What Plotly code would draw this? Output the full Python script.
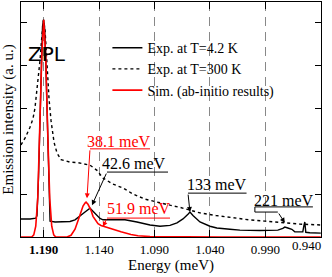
import plotly.graph_objects as go

# ---------------- data ----------------
# Experimental spectrum at T = 4.2 K (energy in the axis units, intensity in a.u.)
e_42k = [1.2103, 1.2022, 1.1968, 1.1959, 1.1945, 1.1932, 1.1918, 1.1909, 1.1900, 1.1891,
         1.1882, 1.1868, 1.1855, 1.1846, 1.1841, 1.1796, 1.1706, 1.1661, 1.1616, 1.1571,
         1.1526, 1.1481, 1.1436, 1.1391, 1.1364, 1.1301, 1.1238, 1.1166, 1.1058, 1.0940,
         1.0850, 1.0760, 1.0697, 1.0643, 1.0598, 1.0580, 1.0553, 1.0490, 1.0400, 1.0338,
         1.0220, 1.0130, 0.9950, 0.9788, 0.9743, 0.9725, 0.9698, 0.9662, 0.9635, 0.9590,
         0.9563, 0.9554, 0.9545, 0.9536, 0.9500, 0.9401]
i_42k = [0.42, 0.42, 0.44, 0.50, 1.40, 2.80, 4.30, 4.90, 5.05, 4.90,
         4.30, 2.80, 1.40, 0.50, 0.37, 0.35, 0.35, 0.36, 0.40, 0.48,
         0.58, 0.67, 0.55, 0.43, 0.40, 0.40, 0.41, 0.40, 0.35, 0.28,
         0.25, 0.27, 0.33, 0.42, 0.53, 0.58, 0.50, 0.35, 0.25, 0.21,
         0.18, 0.16, 0.15, 0.16, 0.20, 0.23, 0.21, 0.18, 0.12, 0.11,
         0.12, 0.25, 0.35, 0.11, 0.10, 0.09]

# Experimental spectrum at T = 300 K
e_300k = [1.2103, 1.2067, 1.2022, 1.1995, 1.1977, 1.1950, 1.1932, 1.1914, 1.1900, 1.1886,
          1.1868, 1.1850, 1.1832, 1.1805, 1.1778, 1.1742, 1.1661, 1.1589, 1.1481, 1.1418,
          1.1364, 1.1274, 1.1184, 1.1094, 1.0985, 1.0850, 1.0760, 1.0670, 1.0580, 1.0490,
          1.0346, 1.0175, 1.0049, 0.9905, 0.9743, 0.9590, 0.9401]
i_300k = [2.14, 2.30, 2.55, 2.75, 3.00, 3.60, 4.10, 4.70, 5.05, 4.80,
          4.00, 3.20, 2.70, 2.20, 1.95, 1.80, 1.74, 1.73, 1.67, 1.55,
          1.37, 1.23, 1.14, 1.00, 0.88, 0.79, 0.74, 0.69, 0.62, 0.56,
          0.50, 0.44, 0.40, 0.37, 0.33, 0.30, 0.28]

# Simulated (ab-initio) spectrum
e_sim = [1.2103, 1.2006, 1.1988, 1.1970, 1.1952, 1.1934, 1.1916, 1.1898, 1.1880, 1.1862,
         1.1844, 1.1826, 1.1808, 1.1790, 1.1688, 1.1652, 1.1616, 1.1580, 1.1544, 1.1526,
         1.1517, 1.1499, 1.1472, 1.1454, 1.1436, 1.1409, 1.1382, 1.1337, 1.1292, 1.1247,
         1.1202, 1.1112, 1.1049, 1.0940, 1.0760, 1.0300, 0.9401]
i_sim = [0.00, 0.00, 0.05, 0.25, 0.90, 2.40, 4.20, 5.05, 4.20, 2.40,
         0.90, 0.25, 0.05, 0.00, 0.00, 0.04, 0.18, 0.45, 0.72, 0.79,
         0.81, 0.76, 0.62, 0.48, 0.40, 0.31, 0.27, 0.23, 0.20, 0.16,
         0.12, 0.06, 0.03, 0.01, 0.005, 0.00, 0.00]

series_names = ["Exp. at T=4.2 K", "Exp. at T=300 K", "Sim. (ab-initio results)"]

x_tick_vals = [1.19, 1.14, 1.09, 1.04, 0.99, 0.94]
x_tick_text = ["<b>1.190</b>", "1.140", "1.090", "1.040", "0.990", "0.940"]
y_tick_vals = [0, 1, 2, 3, 4, 5]

# peak labels: text, colour, text pos, underline (x0,x1,y), arrow start, arrow tip
labels = [
    ("38.1 meV", "#ff0000", 1.1219, 2.23, 1.1481, 1.0940, 2.05, 1.1481, 2.05, 1.1508, 0.90),
    ("42.6 meV", "#000000", 1.1084, 1.70, 1.1328, 1.0778, 1.51, 1.1328, 1.51, 1.1463, 0.74),
    ("51.9 meV", "#ff0000", 1.1039, 0.67, 1.1328, 1.0760, 0.44, 1.1328, 0.44, 1.1364, 0.24),
    ("133 meV", "#000000", 1.0333, 1.21, 1.0598, 1.0070, 1.02, 1.0598, 1.02, 1.0580, 0.58),
    ("221 meV", "#000000", 0.9733, 0.84, 0.9995, 0.9472, 0.70, 0.9788, 0.58, 0.9725, 0.33),
]

SERIF = "Liberation Serif, Times New Roman, serif"

fig = go.Figure()
fig.add_trace(go.Scatter(x=e_42k, y=i_42k, mode="lines", name=series_names[0],
                         line=dict(color="black", width=1.4)))
fig.add_trace(go.Scatter(x=e_300k, y=i_300k, mode="lines", name=series_names[1],
                         line=dict(color="black", width=1.4, dash="dot")))
fig.add_trace(go.Scatter(x=e_sim, y=i_sim, mode="lines", name=series_names[2],
                         line=dict(color="#ff0000", width=1.6)))

for (txt, col, tx, ty, ux0, ux1, uy, ax0, ay0, tipx, tipy) in labels:
    fig.add_annotation(x=tx, y=ty, text=txt, showarrow=False,
                       font=dict(family=SERIF, size=16, color=col))
    fig.add_shape(type="line", x0=ux0, x1=ux1, y0=uy, y1=uy,
                  line=dict(color=col, width=1))
    if txt == "221 meV":
        fig.add_shape(type="line", x0=ux0, x1=ux0, y0=uy, y1=ay0, line=dict(color=col, width=1))
        fig.add_shape(type="line", x0=ux0, x1=ax0, y0=ay0, y1=ay0, line=dict(color=col, width=1))
    fig.add_annotation(x=tipx, y=tipy, ax=ax0, ay=ay0, axref="x", ayref="y",
                       text="", showarrow=True, arrowhead=2, arrowsize=1,
                       arrowwidth=1, arrowcolor=col)

fig.add_annotation(x=1.1873, y=4.26, text="ZPL", showarrow=False,
                   font=dict(family="DejaVu Sans", size=20, color="black"))

# last tick label sits flush with the right frame in the original, so it is
# placed right-aligned at its tick value instead of centred on it
tick_text_shown = x_tick_text[:-1] + [""]
fig.add_annotation(x=x_tick_vals[-1], xref="x", y=-0.036, yref="paper",
                   text=x_tick_text[-1], showarrow=False, xanchor="right", xshift=2,
                   yanchor="middle", font=dict(family=SERIF, size=13, color="black"))

fig.update_layout(
    width=332, height=277,
    margin=dict(l=21, r=11, t=2, b=40),
    paper_bgcolor="white", plot_bgcolor="white",
    font=dict(family=SERIF, size=13, color="black"),
    legend=dict(x=0.288, y=0.872, xanchor="left", yanchor="top",
                bgcolor="rgba(0,0,0,0)", font=dict(family=SERIF, size=14)),
    xaxis=dict(range=[1.2103, 0.9399], tickvals=x_tick_vals, ticktext=tick_text_shown,
               ticks="inside", ticklen=7, tickcolor="black", showline=True,
               linecolor="black", linewidth=1, mirror="ticks", automargin=False,
               showgrid=True, gridcolor="#888888", griddash="9px,6px", gridwidth=1,
               zeroline=False, tickfont=dict(family=SERIF, size=13),
               title=dict(text="Energy (meV)", font=dict(family=SERIF, size=15), standoff=1)),
    yaxis=dict(range=[0, 5.465], tickvals=y_tick_vals, showticklabels=False,
               ticks="inside", ticklen=6, tickcolor="black", showline=True,
               linecolor="black", linewidth=1, mirror="ticks", showgrid=False,
               zeroline=False, automargin=False,
               title=dict(text="Emission intensity (a. u.)", font=dict(family=SERIF, size=15),
                          standoff=2)),
)

fig.write_html("out.html", config={"displayModeBar": False},
               post_script="document.body.style.margin='0px';")
